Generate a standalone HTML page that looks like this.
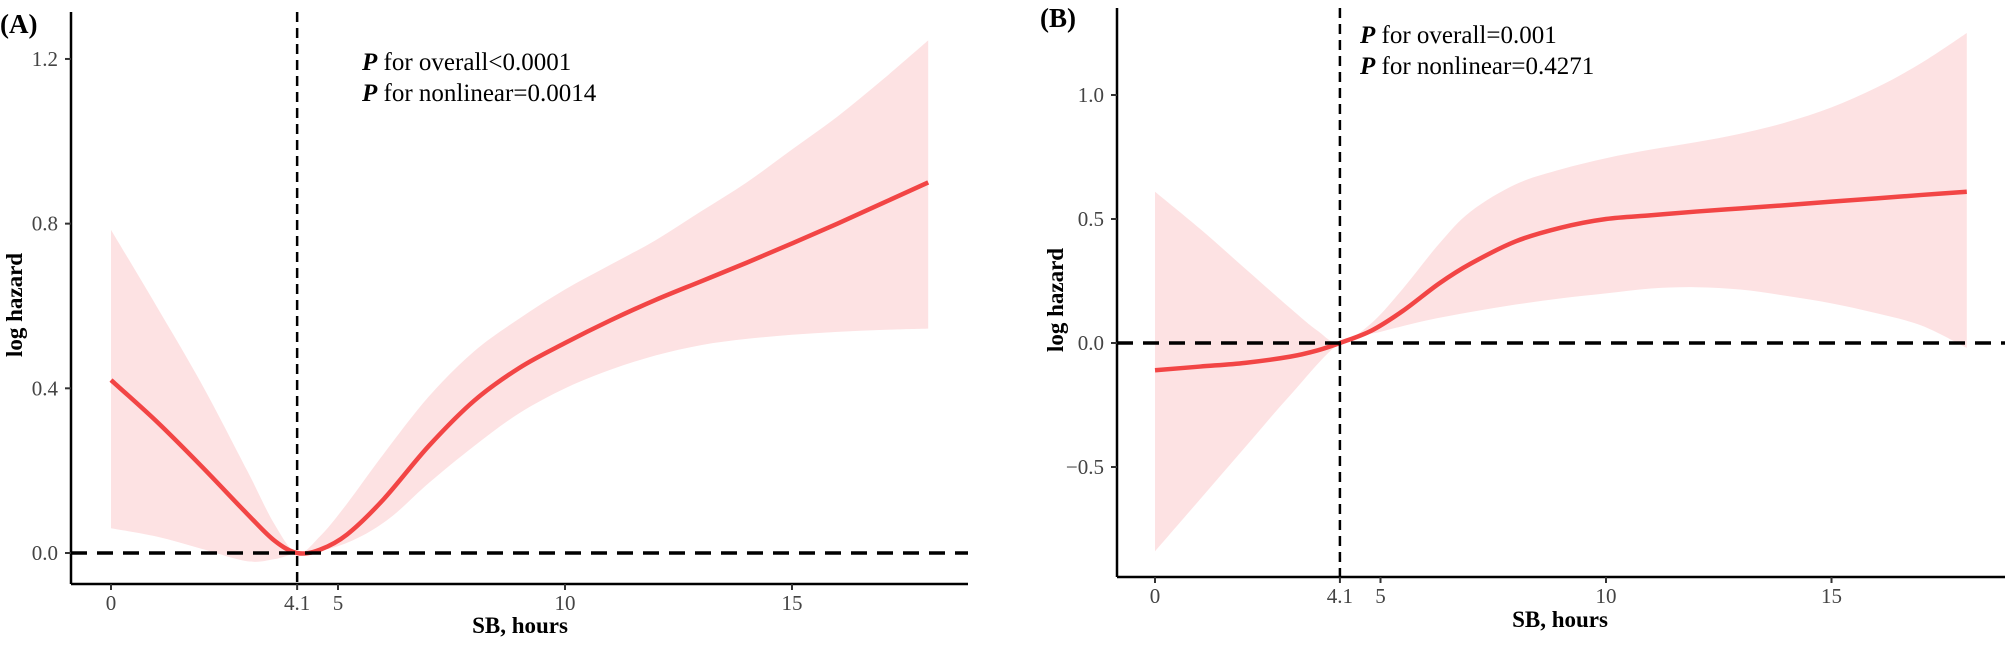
<!DOCTYPE html>
<html><head><meta charset="utf-8"><style>
html,body{margin:0;padding:0;background:#fff;}
svg{display:block;font-family:"Liberation Serif",serif;}
</style></head><body>
<svg id="s" width="2007" height="650" viewBox="0 0 2007 650" xmlns="http://www.w3.org/2000/svg">
<g id="A"></g><g id="B"></g>
<text x="0" y="33" font-size="27" font-weight="bold">(A)</text>
<text x="1040" y="27" font-size="27" font-weight="bold">(B)</text>
<text x="362" y="70" font-size="25"><tspan font-weight="bold" font-style="italic">P</tspan> for overall&lt;0.0001</text>
<text x="362" y="101" font-size="25"><tspan font-weight="bold" font-style="italic">P</tspan> for nonlinear=0.0014</text>
<text x="1360" y="43" font-size="25"><tspan font-weight="bold" font-style="italic">P</tspan> for overall=0.001</text>
<text x="1360" y="74" font-size="25"><tspan font-weight="bold" font-style="italic">P</tspan> for nonlinear=0.4271</text>
<text transform="translate(22,305) rotate(-90)" text-anchor="middle" font-size="23" font-weight="bold">log hazard</text>
<text transform="translate(1063,300) rotate(-90)" text-anchor="middle" font-size="23" font-weight="bold">log hazard</text>
<text x="520" y="633" text-anchor="middle" font-size="23" font-weight="bold">SB, hours</text>
<text x="1560" y="627" text-anchor="middle" font-size="23" font-weight="bold">SB, hours</text>
</svg>
<script>
function path(pts){let d="M"+pts[0][0]+","+pts[0][1];for(let i=0;i<pts.length-1;i++){const p0=pts[i-1]||pts[i],p1=pts[i],p2=pts[i+1],p3=pts[i+2]||p2;const c1=[p1[0]+(p2[0]-p0[0])/6,p1[1]+(p2[1]-p0[1])/6],c2=[p2[0]-(p3[0]-p1[0])/6,p2[1]-(p3[1]-p1[1])/6];d+=" C"+c1+" "+c2+" "+p2;}return d;}
function panel(g,o){const X=h=>o.x0+h*o.ux,Y=v=>o.y0-v*o.uy;let s="";
const up=o.up.map(p=>[X(p[0]),Y(p[1])]),lo=o.lo.map(p=>[X(p[0]),Y(p[1])]).reverse();
const pl=path(lo);
let d=path(up)+" L"+lo[0]+pl.slice(pl.indexOf(" "))+"Z";
s+=`<path d="${d}" fill="#fde2e3"/>`;
s+=`<line x1="${o.ax}" y1="${o.top}" x2="${o.ax}" y2="${o.bot}" stroke="#000" stroke-width="2.5"/>`;
s+=`<line x1="${o.ax}" y1="${o.bot}" x2="${o.right}" y2="${o.bot}" stroke="#000" stroke-width="2.5"/>`;
o.yt.forEach(t=>{s+=`<line x1="${o.ax-6}" x2="${o.ax}" y1="${Y(t)}" y2="${Y(t)}" stroke="#333" stroke-width="2"/><text x="${o.ax-13}" y="${Y(t)+7}" text-anchor="end" font-size="21" fill="#444">${t<0?"\u2212"+(-t).toFixed(1):t.toFixed(1)}</text>`;});
[0,4.1,5,10,15].forEach(t=>{s+=`<line x1="${X(t)}" x2="${X(t)}" y1="${o.bot}" y2="${o.bot+6}" stroke="#333" stroke-width="2"/><text x="${X(t)}" y="${o.bot+26}" text-anchor="middle" font-size="21" fill="#444">${t}</text>`;});
s+=`<path d="${path(o.c.map(p=>[X(p[0]),Y(p[1])]))}" fill="none" stroke="#f24545" stroke-width="4.5"/>`;
s+=`<line x1="${o.ax}" y1="${Y(0)}" x2="${o.right}" y2="${Y(0)}" stroke="#000" stroke-width="3.5" stroke-dasharray="16,10"/>`;
s+=`<line x1="${X(4.1)}" y1="${o.top}" x2="${X(4.1)}" y2="${o.bot}" stroke="#000" stroke-width="2.5" stroke-dasharray="10,6"/>`;
document.getElementById(g).innerHTML=s;}
panel("A",{x0:111,ux:45.4,y0:553,uy:411.7,ax:71,top:12,bot:584,right:968,yt:[0,0.4,0.8,1.2],
up:[[0,0.785],[1,0.6],[2,0.41],[3,0.2],[3.6,0.07],[4.1,0],[4.6,0.04],[5.2,0.12],[6,0.24],[7,0.38],[8,0.49],[9,0.57],[10,0.64],[11,0.7],[12,0.76],[13,0.83],[14,0.9],[15,0.98],[16,1.06],[17,1.15],[18,1.245]],
lo:[[0,0.06],[1,0.04],[2,0.01],[3,-0.02],[3.6,-0.015],[4.1,0],[4.8,0.01],[5.5,0.04],[6.2,0.09],[7,0.17],[8,0.26],[9,0.34],[10,0.4],[11,0.445],[12,0.48],[13,0.505],[14,0.52],[15,0.53],[16,0.537],[17,0.542],[18,0.545]],
c:[[0,0.42],[1,0.32],[2,0.21],[3,0.095],[3.6,0.03],[4.1,0],[4.6,0.008],[5.2,0.045],[6,0.13],[7,0.26],[8,0.37],[9,0.45],[10,0.51],[11,0.565],[12,0.615],[13,0.66],[14,0.705],[15,0.752],[16,0.8],[17,0.85],[18,0.9]]});
panel("B",{x0:1155,ux:45.1,y0:343,uy:248,ax:1117,top:8,bot:577,right:2005,yt:[-0.5,0,0.5,1.0],
up:[[0,0.61],[1,0.46],[2,0.3],[3,0.14],[3.6,0.05],[4.1,0],[4.8,0.08],[5.5,0.22],[6.3,0.4],[7,0.53],[8,0.64],[9,0.7],[10,0.745],[11,0.78],[12,0.81],[13,0.845],[14,0.89],[15,0.95],[16,1.03],[17,1.13],[18,1.25]],
lo:[[0,-0.84],[1,-0.63],[2,-0.42],[3,-0.21],[4.1,0],[5,0.045],[6,0.09],[7,0.125],[8,0.155],[9,0.18],[10,0.2],[11,0.22],[12,0.225],[13,0.215],[14,0.19],[15,0.16],[16,0.12],[17,0.07],[18,-0.02]],
c:[[0,-0.11],[1,-0.095],[2,-0.08],[3,-0.055],[3.6,-0.03],[4.1,0],[4.8,0.05],[5.5,0.13],[6.3,0.24],[7,0.32],[8,0.41],[9,0.465],[10,0.5],[11,0.515],[12,0.53],[13,0.543],[14,0.556],[15,0.57],[16,0.583],[17,0.597],[18,0.61]]});
</script>
</body></html>
